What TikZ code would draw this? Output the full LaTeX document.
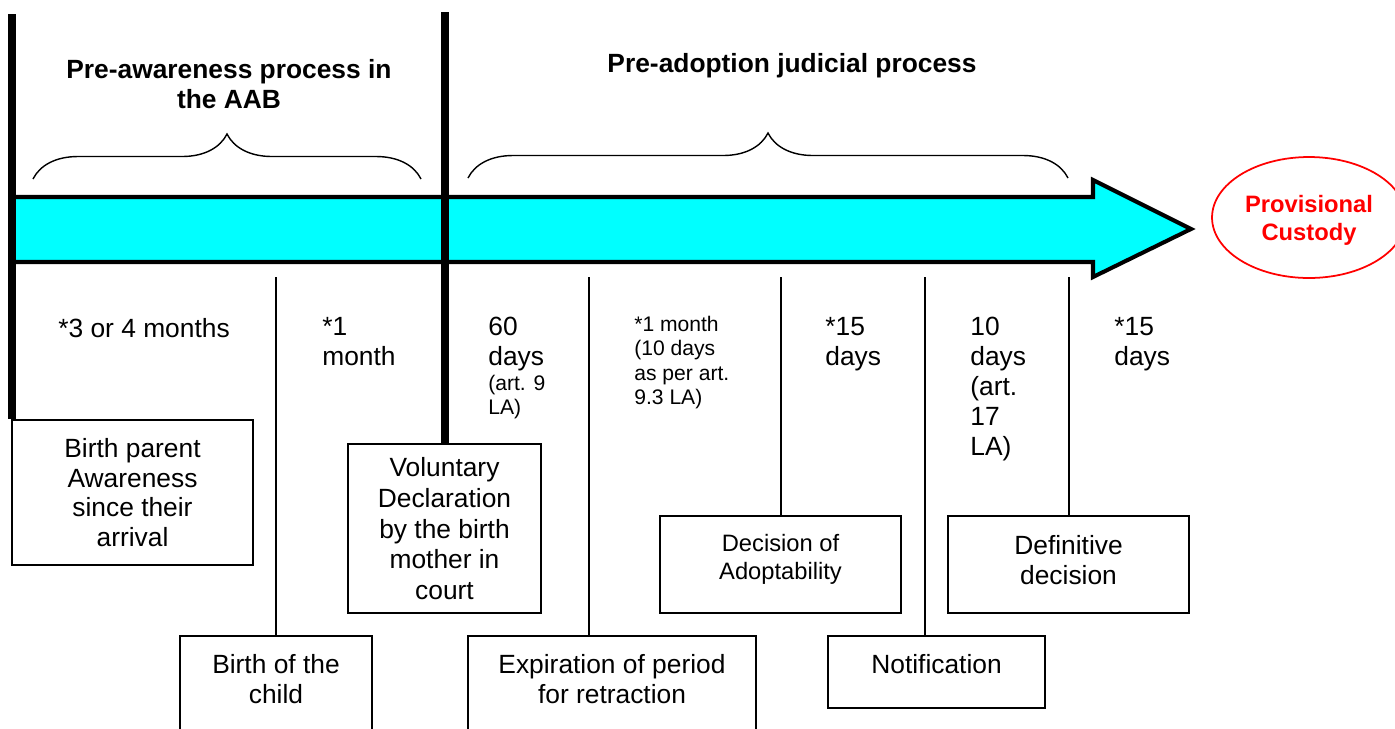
\documentclass[tikz,border=0pt]{standalone}
\usepackage{fontspec}
\setmainfont{Liberation Sans}
\usetikzlibrary{shapes.geometric,decorations.pathreplacing}
\definecolor{bandcyan}{RGB}{0,255,255}
\definecolor{custodyred}{RGB}{255,0,0}
\newcommand\notesize{\fontsize{12}{14}\selectfont}

\begin{document}
\begin{tikzpicture}[
  x=0.02cm, y=-0.02cm,
  every node/.style={font=\fontsize{15}{17}\selectfont},
  box/.style={draw,line width=1pt,fill=white,align=center,inner sep=0pt},
  period/.style={anchor=north west,align=left,inner sep=0pt},
  note/.style={font=\notesize},
  phase/.style={font=\fontsize{15}{17}\selectfont\bfseries,align=center,inner sep=0pt},
  divider/.style={line width=4pt},
  link/.style={line width=0.8pt},
  curly/.style={decorate,decoration={brace,amplitude=0.9cm},line width=0.8pt}
]
  \useasboundingbox (0,0) rectangle (1395,728);
  \filldraw[fill=bandcyan,line width=2.3pt]
    (12,197) -- (1093,197) -- (1093,180) -- (1191,229) -- (1093,277) -- (1093,262) -- (12,262) -- cycle;

  \node[phase] (preaware) at (229,84) {Pre-awareness process in\\the AAB};
  \node[phase] (judicial) at (792,66) {Pre-adoption judicial process};
  \draw[curly] (33,179) -- (421,179);
  \draw[curly] (468,178) -- (1068,178);

  \node[ellipse,draw=custodyred,line width=1pt,text=custodyred,align=center,inner sep=0pt,
        minimum width=3.88cm,minimum height=2.42cm,text depth=-4pt,font=\fontsize{13.5}{16}\selectfont\bfseries]
    (custody) at (1309,217.5) {Provisional\\Custody};

  \node[box,minimum width=4.82cm,minimum height=2.9cm] (aware) at (132.5,492.5)
    {Birth parent\\Awareness\\since their\\arrival};
  \node[box,minimum width=3.84cm,minimum height=1.9cm,text depth=5.6pt] (birth) at (276,683.5)
    {Birth of the\\child};
  \node[box,minimum width=3.86cm,minimum height=3.38cm,text depth=-5pt,font=\fontsize{15}{17.6}\selectfont] (decl) at (444.5,528.5)
    {Voluntary\\Declaration\\by the birth\\mother in\\court};
  \node[box,minimum width=5.76cm,minimum height=1.9cm,text depth=5.6pt] (expire) at (612,683.5)
    {Expiration of period\\for retraction};
  \node[box,minimum width=4.82cm,minimum height=1.94cm,text depth=8.4pt,font=\fontsize{13.5}{16}\selectfont] (adopt) at (780.5,564.5)
    {Decision of\\Adoptability};
  \node[box,minimum width=4.34cm,minimum height=1.44cm,text depth=9pt] (notify) at (936.5,672)
    {Notification};
  \node[box,minimum width=4.82cm,minimum height=1.94cm,text depth=5.1pt] (final) at (1068.5,564.5)
    {Definitive\\decision};

  \node[period] (d1) at (58,318) {*3 or 4 months};
  \node[period] (d2) at (322,317) {*1\\month};
  \node[period] (d3) at (488,317) {60\\days\\[-3pt]\notesize (art. 9\\[-3pt]\notesize LA)};
  \node[period,note] (d4) at (634,315.5) {*1 month\\(10 days\\as per art.\\9.3 LA)};
  \node[period] (d5) at (825,317) {*15\\days};
  \node[period] (d6) at (970,317) {10\\days\\(art.\\17\\LA)};
  \node[period] (d7) at (1114,317) {*15\\days};

  \coordinate (b1) at (12,14);
  \coordinate (b2) at (445,12);
  \draw[divider] (b1) -- (b1 |- aware.north);
  \draw[divider] (b2) -- (b2 |- decl.north);

  \coordinate (t1) at (276,277);
  \coordinate (t2) at (589,277);
  \coordinate (t3) at (781,277);
  \coordinate (t4) at (925,277);
  \coordinate (t5) at (1069,277);
  \draw[link] (t1) -- (t1 |- birth.north);
  \draw[link] (t2) -- (t2 |- expire.north);
  \draw[link] (t3) -- (t3 |- adopt.north);
  \draw[link] (t4) -- (t4 |- notify.north);
  \draw[link] (t5) -- (t5 |- final.north);
\end{tikzpicture}
\end{document}
